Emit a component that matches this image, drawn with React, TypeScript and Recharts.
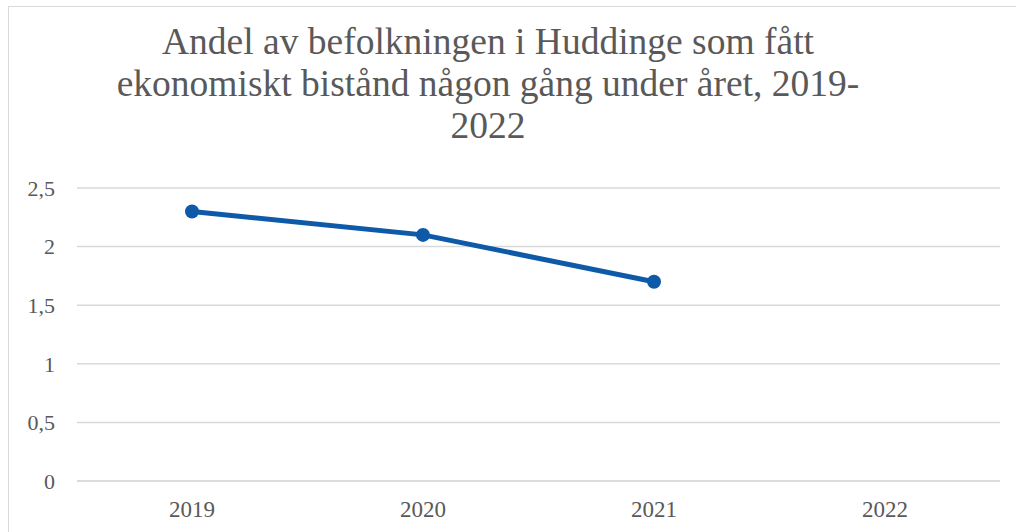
import { LineChart, Line, XAxis, YAxis, CartesianGrid } from "recharts";

const years = ["2019", "2020", "2021", "2022"];
const andel: (number | null)[] = [2.3, 2.1, 1.7, null];
const yTicks = [0, 0.5, 1, 1.5, 2, 2.5];
const titleLines = [
    "Andel av befolkningen i Huddinge som fått",
    "ekonomiskt bistånd någon gång under året, 2019-",
    "2022",
];

const data = years.map((year, i) => ({ year, andel: andel[i] }));

const GRAY = "#595959";
const GRID = "#d9d9d9";
const BLUE = "#0E5AA8";
const FONT = "Liberation Serif, DejaVu Serif, serif";

export default function App() {
    return (
        <div
            style={{
                position: "absolute",
                left: 0,
                top: 0,
                width: 1016,
                height: 532,
                overflow: "hidden",
                background: "#fff",
                fontFamily: FONT,
            }}
        >
            {/* chart frame, cut off on the right and bottom */}
            <div
                style={{
                    position: "absolute",
                    left: 8,
                    top: 6,
                    width: 1100,
                    height: 600,
                    border: `1.5px solid ${GRID}`,
                }}
            />
            <div
                style={{
                    position: "absolute",
                    left: 0,
                    top: 21,
                    width: 976,
                    textAlign: "center",
                    fontSize: 37.5,
                    lineHeight: "42px",
                    color: GRAY,
                    fontFamily: FONT,
                }}
            >
                {titleLines.map((line) => (
                    <div key={line}>{line}</div>
                ))}
            </div>
            <div style={{ position: "absolute", left: 0, top: 0 }}>
                <LineChart
                    width={1016}
                    height={532}
                    data={data}
                    margin={{ top: 188, right: 16, bottom: 21, left: 0 }}
                >
                    <CartesianGrid vertical={false} stroke={GRID} strokeWidth={1.5} />
                    <XAxis
                        dataKey="year"
                        height={30}
                        padding={{ left: 115, right: 115 }}
                        axisLine={{ stroke: GRID, strokeWidth: 1.5 }}
                        tickLine={false}
                        tickSize={0}
                        tickMargin={20}
                        tick={{ fontSize: 23, fill: GRAY, fontFamily: FONT }}
                        interval={0}
                    />
                    <YAxis
                        width={77}
                        domain={[0, 2.5]}
                        ticks={yTicks}
                        axisLine={false}
                        tickLine={false}
                        tickSize={0}
                        tickMargin={22}
                        tick={{ fontSize: 22, fill: GRAY, fontFamily: FONT }}
                        tickFormatter={(v: number) => String(v).replace(".", ",")}
                    />
                    <Line
                        type="linear"
                        dataKey="andel"
                        stroke={BLUE}
                        strokeWidth={5}
                        dot={{ r: 7, fill: BLUE, stroke: BLUE, strokeWidth: 0 }}
                        isAnimationActive={false}
                    />
                </LineChart>
            </div>
        </div>
    );
}
